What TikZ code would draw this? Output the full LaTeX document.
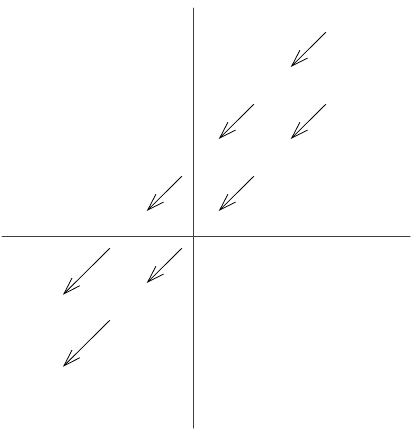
\documentclass[tikz,border=0pt]{standalone}
\usepackage{tikz}
\usetikzlibrary{arrows.meta}

\begin{document}
\begin{tikzpicture}[x=1in, y=1in, line cap=round, line join=round,
    >={Straight Barb[length=17pt, width=11pt]},
    axis/.style={line width=0.9pt, black!75},
    vec/.style={->, line width=0.8pt}]
    \useasboundingbox (-2.685,-2.694) rectangle (3.037,3.278);

    \coordinate (O) at (0,0);
    \coordinate (L) at (-2.657,0);
    \coordinate (R) at (3.01,0);
    \coordinate (B) at (0,-2.667);
    \coordinate (T) at (0,3.167);

    \draw[axis] (L) -- (R);
    \draw[axis] (B) -- (T);

    % short vectors
    \foreach \a/\b in {2/3, 1/2, 2/2, 0/1, 1/1, 0/0}
      \draw[vec] (\a-0.16,\b-0.17) -- ++(-0.486,-0.482);
    % longer vectors
    \foreach \a/\b in {-1/0, -1/-1}
      \draw[vec] (\a-0.16,\b-0.17) -- ++(-0.65,-0.645);
  \end{tikzpicture}
\end{document}
